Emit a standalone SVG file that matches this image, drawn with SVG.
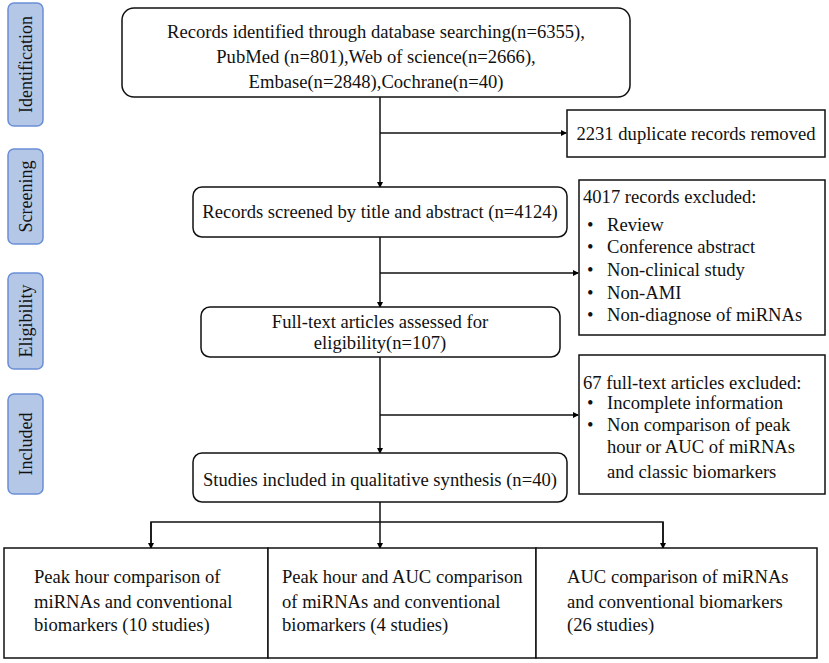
<svg xmlns="http://www.w3.org/2000/svg" width="829" height="663" viewBox="0 0 829 663">
<defs>
<marker id="ah" markerWidth="6" markerHeight="6" refX="5" refY="3" orient="auto" markerUnits="userSpaceOnUse">
<path d="M0,0 L6,3 L0,6 z" fill="#000"/>
</marker>
<style>
text{font-family:"Liberation Serif","Times New Roman",serif;font-size:18.6px;fill:#111;}
.side rect{fill:#b4c7e7;stroke:#6b8fd6;stroke-width:1.5;}
.side text{font-size:18px;}
.box{fill:#fff;stroke:#111;stroke-width:1.5;}
.c{text-anchor:middle;}
.ln{fill:none;stroke:#111;stroke-width:1.5;}
.arr{fill:none;stroke:#111;stroke-width:1.5;marker-end:url(#ah);}
</style>
</defs>
<rect width="829" height="663" fill="#fff"/>
<g id="stage-identification" class="side"><rect x="8" y="3" width="35" height="123" rx="6"/><text class="c" transform="translate(32,64.5) rotate(-90)">Identification</text></g>
<g id="stage-screening" class="side"><rect x="8" y="149" width="35" height="95" rx="6"/><text class="c" transform="translate(32,196.5) rotate(-90)">Screening</text></g>
<g id="stage-eligibility" class="side"><rect x="8" y="273" width="35" height="96" rx="6"/><text class="c" transform="translate(32,321) rotate(-90)">Eligibility</text></g>
<g id="stage-included" class="side"><rect x="8" y="394" width="35" height="100" rx="6"/><text class="c" transform="translate(32,444) rotate(-90)">Included</text></g>

<g id="connectors">
<line class="arr" x1="380" y1="97" x2="380" y2="187"/>
<line class="arr" x1="380" y1="133" x2="566" y2="133"/>
<line class="arr" x1="380" y1="237" x2="380" y2="307"/>
<line class="arr" x1="380" y1="273" x2="578" y2="273"/>
<line class="arr" x1="380" y1="357" x2="380" y2="453"/>
<line class="arr" x1="380" y1="415" x2="578" y2="415"/>
<line class="ln" x1="380" y1="502" x2="380" y2="522"/>
<polyline class="ln" points="151,548 151,522 663,522 663,548"/>
<line class="arr" x1="151" y1="522" x2="151" y2="548"/>
<line class="arr" x1="380" y1="522" x2="380" y2="548"/>
<line class="arr" x1="663" y1="522" x2="663" y2="548"/>
</g>

<g id="records-identified"><rect class="box" x="122" y="8" width="508" height="89" rx="12"/>
<text class="c" x="376" y="38">Records identified through database searching(n=6355),</text>
<text class="c" x="376" y="63">PubMed (n=801),Web of science(n=2666),</text>
<text class="c" x="376" y="88">Embase(n=2848),Cochrane(n=40)</text></g>

<g id="duplicates"><rect class="box" x="567" y="110" width="258" height="47"/>
<text class="c" x="696" y="140">2231 duplicate records removed</text></g>

<g id="screened"><rect class="box" x="193" y="187" width="374" height="50" rx="9"/>
<text class="c" x="380" y="218">Records screened by title and abstract (n=4124)</text></g>

<g id="excluded-records"><rect class="box" x="579" y="180" width="246" height="155"/>
<text x="583" y="203">4017 records excluded:</text>
<text x="587" y="231">•</text><text x="607" y="231">Review</text>
<text x="587" y="253">•</text><text x="607" y="253">Conference abstract</text>
<text x="587" y="276">•</text><text x="607" y="276">Non-clinical study</text>
<text x="587" y="299">•</text><text x="607" y="299">Non-AMI</text>
<text x="587" y="321">•</text><text x="607" y="321">Non-diagnose of miRNAs</text></g>

<g id="eligibility"><rect class="box" x="201" y="307" width="359" height="50" rx="9"/>
<text class="c" x="380" y="328">Full-text articles assessed for</text>
<text class="c" x="380" y="349">eligibility(n=107)</text></g>

<g id="excluded-fulltext"><rect class="box" x="579" y="355" width="246" height="139"/>
<text x="583" y="389">67 full-text articles excluded:</text>
<text x="587" y="409">•</text><text x="607" y="409">Incomplete information</text>
<text x="587" y="431">•</text><text x="607" y="431">Non comparison of peak</text>
<text x="607" y="453">hour or AUC of miRNAs</text>
<text x="607" y="478">and classic biomarkers</text></g>

<g id="included"><rect class="box" x="193" y="453" width="374" height="49" rx="9"/>
<text class="c" x="380" y="486">Studies included in qualitative synthesis (n=40)</text></g>

<g id="peak-hour"><rect class="box" x="4" y="548" width="264" height="110"/>
<text x="34" y="583">Peak hour comparison of</text>
<text x="34" y="608">miRNAs and conventional</text>
<text x="34" y="631">biomarkers (10 studies)</text></g>

<g id="peak-auc"><rect class="box" x="268" y="548" width="268" height="110"/>
<text x="282" y="583">Peak hour and AUC comparison</text>
<text x="282" y="608">of miRNAs and conventional</text>
<text x="282" y="631">biomarkers (4 studies)</text></g>

<g id="auc"><rect class="box" x="536" y="548" width="281" height="110"/>
<text x="567" y="583">AUC comparison of miRNAs</text>
<text x="567" y="608">and conventional biomarkers</text>
<text x="567" y="631">(26 studies)</text></g>
</svg>
